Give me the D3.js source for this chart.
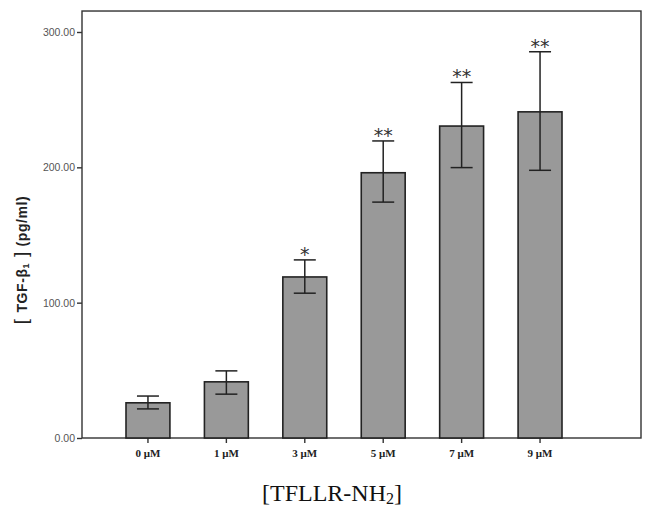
<!DOCTYPE html>
<html>
<head>
<meta charset="utf-8">
<script src="https://cdn.jsdelivr.net/npm/d3@7"></script>
<style>
  body { margin: 0; background: #fff; }
</style>
</head>
<body>
<div id="chart"></div>
<script>
const categories = ["0 \u03bcM", "1 \u03bcM", "3 \u03bcM", "5 \u03bcM", "7 \u03bcM", "9 \u03bcM"];
const means = [26, 41.5, 119, 196, 230.5, 241];
const upper = [31, 49.6, 131.6, 219.5, 262.7, 285.4];
const lower = [21.5, 32.4, 107, 174.3, 199.8, 197.8];
const marks = ["", "", "*", "**", "**", "**"];
const yTicks = [0, 100, 200, 300];

const width = 645, height = 508;
const left = 82, right = 641, bottom = 438;

const svg = d3.select("#chart").append("svg")
    .attr("width", width)
    .attr("height", height);

const y = d3.scaleLinear().domain([0, 300]).range([bottom, 32]);
const x = d3.scaleBand().domain(categories).range([126, 562]).paddingInner(0.44).paddingOuter(0);

const frameTop = y(315.5);

// frame
svg.append("rect")
    .attr("x", left).attr("y", frameTop)
    .attr("width", right - left).attr("height", bottom - frameTop)
    .attr("fill", "none").attr("stroke", "#333").attr("stroke-width", 1.4);

// y axis
const yAxis = svg.append("g")
    .attr("transform", `translate(${left},0)`)
    .call(d3.axisLeft(y).tickValues(yTicks).tickFormat(d3.format(".2f")).tickSize(5).tickPadding(2));
yAxis.select(".domain").remove();
yAxis.selectAll("line").attr("stroke", "#333").attr("stroke-width", 1.4);
yAxis.selectAll("text")
    .attr("font-family", "Liberation Sans, Arial, sans-serif")
    .attr("font-size", 10.5).attr("fill", "#555");

// x axis
const xAxis = svg.append("g")
    .attr("transform", `translate(0,${bottom})`)
    .call(d3.axisBottom(x).tickSize(5).tickPadding(6));
xAxis.select(".domain").remove();
xAxis.selectAll("line").attr("stroke", "#333").attr("stroke-width", 1.4);
xAxis.selectAll("text")
    .attr("font-family", "Liberation Serif, Times New Roman, serif")
    .attr("font-weight", "bold")
    .attr("font-size", 11).attr("fill", "#222");

// bars
svg.append("g")
    .selectAll("rect")
    .data(categories)
    .join("rect")
    .attr("x", d => x(d))
    .attr("y", (d, i) => y(means[i]))
    .attr("width", x.bandwidth())
    .attr("height", (d, i) => y(0) - y(means[i]))
    .attr("fill", "#999")
    .attr("stroke", "#222")
    .attr("stroke-width", 1.6);

// error bars
const cap = 11;
const err = svg.append("g").attr("stroke", "#222").attr("stroke-width", 1.5);
categories.forEach((c, i) => {
    const cx = x(c) + x.bandwidth() / 2;
    err.append("line").attr("x1", cx).attr("x2", cx).attr("y1", y(upper[i])).attr("y2", y(lower[i]));
    err.append("line").attr("x1", cx - cap).attr("x2", cx + cap).attr("y1", y(upper[i])).attr("y2", y(upper[i]));
    err.append("line").attr("x1", cx - cap).attr("x2", cx + cap).attr("y1", y(lower[i])).attr("y2", y(lower[i]));
});

// significance marks
svg.append("g")
    .selectAll("text")
    .data(categories)
    .join("text")
    .attr("x", d => x(d) + x.bandwidth() / 2)
    .attr("y", (d, i) => y(upper[i]) + 1)
    .attr("text-anchor", "middle")
    .attr("font-family", "DejaVu Sans, sans-serif")
    .attr("font-size", 19)
    .attr("fill", "#333")
    .text((d, i) => marks[i]);

// y title
const yt = svg.append("text")
    .attr("transform", "translate(27,260) rotate(-90)")
    .attr("text-anchor", "middle")
    .attr("font-family", "Liberation Sans, Arial, sans-serif")
    .attr("font-weight", "bold")
    .attr("font-size", 14)
    .attr("letter-spacing", 0.6)
    .attr("fill", "#222");
yt.append("tspan").attr("font-weight", "normal").attr("font-size", 19).text("[ ");
yt.append("tspan").text("TGF-\u03b2");
yt.append("tspan").attr("font-size", 9).attr("dy", 2).text("1");
yt.append("tspan").attr("dy", -2).attr("font-weight", "normal").attr("font-size", 19).text(" ]");
yt.append("tspan").text(" (pg/ml)");

// x title
const xt = svg.append("text")
    .attr("x", 332).attr("y", 501)
    .attr("text-anchor", "middle")
    .attr("font-family", "Liberation Serif, Times New Roman, serif")
    .attr("font-size", 24)
    .attr("fill", "#111");
xt.append("tspan").text("[TFLLR-NH");
xt.append("tspan").attr("font-size", 16).attr("dy", 3).text("2");
xt.append("tspan").attr("dy", -3).text("]");
</script>
</body>
</html>
